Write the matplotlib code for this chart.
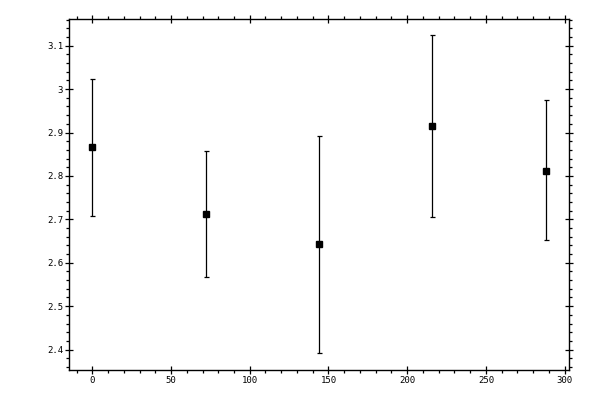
import numpy as np
import matplotlib
matplotlib.use("Agg")
import matplotlib.pyplot as plt
from matplotlib.ticker import MultipleLocator, FormatStrFormatter

# data
x = [0, 72, 144, 216, 288]
y = [2.867, 2.712, 2.643, 2.915, 2.811]
y_top = [3.023, 2.857, 2.892, 3.125, 2.974]
y_bot = [2.708, 2.567, 2.392, 2.705, 2.652]

err = [np.array(y) - np.array(y_bot), np.array(y_top) - np.array(y)]

fig = plt.figure(figsize=(6, 4), dpi=100)
ax = fig.add_axes([0.1155, 0.075, 0.8335, 0.877])

ax.errorbar(x, y, yerr=err, fmt='s', color='black', ecolor='black',
            markersize=5, elinewidth=0.9, capsize=1.8, capthick=0.9)

ax.set_xlim(-14.6, 303)
ax.set_ylim(2.353, 3.161)

ax.xaxis.set_major_locator(MultipleLocator(50))
ax.xaxis.set_minor_locator(MultipleLocator(10))
ax.yaxis.set_major_locator(MultipleLocator(0.1))
ax.yaxis.set_minor_locator(MultipleLocator(0.02))
ax.yaxis.set_major_formatter(plt.FuncFormatter(lambda v, p: f"{v:g}"))

for s in ax.spines.values():
    s.set_linewidth(1.0)

ax.tick_params(which='major', direction='inout', length=6, width=0.9,
               top=True, right=True, labelsize=6.5, pad=1.5)
ax.tick_params(which='minor', direction='out', length=2.4, width=0.9,
               top=True, right=True)
for lab in ax.get_xticklabels() + ax.get_yticklabels():
    lab.set_family('DejaVu Sans Mono')

fig.savefig("out.png", dpi=100)
